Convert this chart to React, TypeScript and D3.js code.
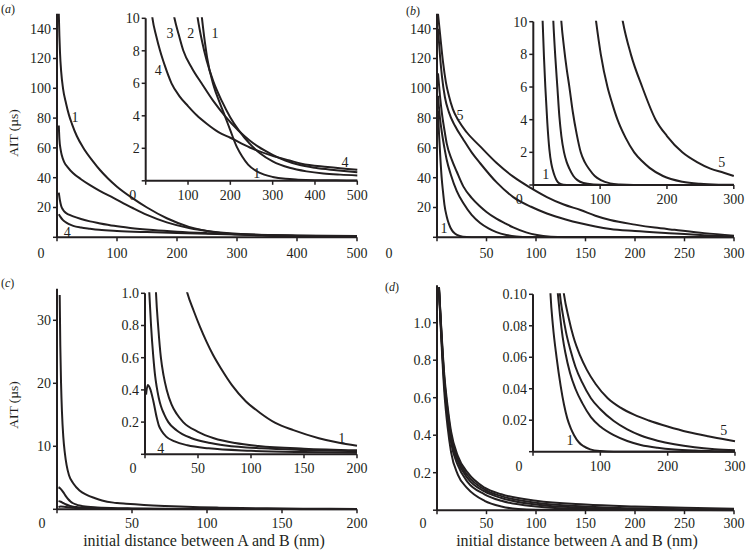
import React from 'react';
import * as d3 from 'd3';

type Pt = [number, number];

// ---------- Panel (a) main ----------
const aMain1: Pt[] = [[3,150],[4,135],[5,124],[7,111],[10,100],[15,90],[20,82],[25,76],[33,68],[44,60],[60,51],[72,45],[85,39.5],[100,34],[127,26],[150,20],[183,12.8],[220,7],[267,3.2],[300,2],[350,1.1],[400,0.6],[500,0.3]];
const aMain2: Pt[] = [[3,75],[4,66],[6,59],[8,55],[12,50.5],[18,47],[27,43],[40,39],[55,35],[72,31],[94,26.5],[115,22],[127,19.5],[150,15],[183,10],[220,6.2],[260,3.8],[300,2.4],[350,1.4],[400,0.85],[500,0.35]];
const aMain3: Pt[] = [[3,30],[5,24.5],[7,21],[10,18.5],[15,16.3],[20,15.2],[27,14],[40,12.3],[55,10.7],[70,9.5],[95,7.7],[122,6.3],[160,4.9],[200,3.8],[250,2.8],[300,2],[400,1.1],[500,0.6]];
const aMain4: Pt[] = [[3,15.5],[6,13.5],[10,11.5],[15,10],[20,8.8],[27,7.7],[40,6.6],[55,5.8],[70,5.1],[100,4.3],[150,3.5],[200,2.9],[250,2.4],[300,1.9],[400,1.2],[500,0.8]];
// ---------- Panel (a) inset ----------
const aIn1: Pt[] = [[125,12],[133,10],[140,8.5],[145,7.6],[160,5.9],[175,4.8],[187,4],[200,3.1],[215,2.1],[228,1.5],[242,1],[260,0.62],[280,0.38],[300,0.24],[330,0.12],[360,0.07],[400,0.04],[450,0.03],[500,0.02]];
const aIn2: Pt[] = [[113,12],[123,10],[133,8.6],[144,7.4],[160,6.1],[180,4.9],[200,3.9],[220,3.1],[245,2.3],[270,1.7],[300,1.2],[340,0.8],[380,0.58],[420,0.45],[460,0.38],[500,0.33]];
const aIn3: Pt[] = [[55,12],[68,10],[78,9],[89,8],[110,6.9],[132,6],[160,4.9],[187,4],[219,3.1],[245,2.5],[266,2.1],[300,1.6],[330,1.25],[360,1],[400,0.8],[450,0.65],[500,0.52]];
const aIn4: Pt[] = [[8,12],[16,10],[25,8.9],[34,8],[45,7.1],[61,6],[80,5.2],[100,4.6],[120,4.05],[145,3.5],[172,3],[200,2.65],[246,2.05],[298,1.55],[340,1.25],[368,1.05],[430,0.85],[500,0.68]];

// ---------- Panel (b) main ----------
const bMain1: Pt[] = [[1,85],[2,70],[3.5,52],[4.7,40],[6,31],[7.5,22],[9.8,14],[12,9],[15,4.8],[18,2.6],[23,0.9],[30,0.2],[40,0],[300,0]];
const bMain2: Pt[] = [[1,95],[3,80],[5,70],[7.5,60],[9.8,52],[14,42],[20,31],[26.7,22.8],[35,15],[43.6,9.6],[52,6],[60,3.5],[70,1.6],[80,0.6],[95,0.1],[110,0],[300,0]];
const bMain3: Pt[] = [[1,110],[3,95],[5,83],[7.5,72],[9.8,63],[15,52],[20,44],[26.7,34],[35,26.5],[43,21],[50,17],[60,12.5],[70,9],[77,6.6],[90,3.3],[101,1.5],[115,0.4],[130,0.05],[145,0],[300,0]];
const bMain4: Pt[] = [[1,140],[3,122],[5,108],[8,94],[12,84],[18,75],[26.7,65.5],[35,57],[43.6,49.7],[60,37],[77,27],[95,20.5],[111,16],[130,12],[145,9.4],[160,7.2],[175,5.5],[200,4.2],[240,2.6],[270,1.4],[300,0.5]];
const bMain5: Pt[] = [[1,150],[3,137],[6,118],[9,104],[12,95],[16,86],[22,78],[30,70.5],[43.6,61],[60,50],[77,40.7],[95,33],[111,27],[128,22],[145,18.3],[160,14.5],[175,11.6],[200,8.5],[220,6.5],[240,5],[270,2.8],[300,1.1]];
// ---------- Panel (b) inset ----------
const bIn1: Pt[] = [[12,12],[14,10],[16,7.8],[18,6],[21,3.8],[24,2.2],[27,1.3],[29,0.95],[32,0.55],[35,0.28],[39,0.1],[45,0.02],[55,0],[300,0]];
const bIn2: Pt[] = [[28,12],[30,10],[33,7.8],[36,6],[39,4.2],[42,3],[46,2],[50,1.4],[54,1],[60,0.55],[66,0.3],[75,0.12],[90,0.03],[110,0],[300,0]];
const bIn3: Pt[] = [[39,12],[42,10],[46,8.4],[50,7.1],[54,6],[59,4.5],[65,3.1],[71,2],[77,1.4],[84,0.95],[92,0.55],[101,0.3],[115,0.1],[130,0.03],[150,0],[300,0]];
const bIn4: Pt[] = [[88,12],[94,10],[101,8],[111,6],[118,5],[126,4],[138,2.9],[151,2],[163,1.45],[174,1.05],[194,0.55],[223,0.2],[250,0.07],[280,0.02],[300,0.01]];
const bIn5: Pt[] = [[126,12],[134,10],[146,8],[163,6],[183,4],[200,3],[223,2],[245,1.4],[265,1],[285,0.75],[300,0.55]];

// ---------- Panel (c) (main and inset share data) ----------
const c1: Pt[] = [[1.8,34],[2.2,26],[2.7,20],[3.3,15.5],[4.2,11.5],[5.2,9],[6.4,7],[8,5.4],[10.9,4.1],[15,3],[19.8,2.3],[25,1.8],[30,1.4],[37.6,1.06],[40,1],[46,0.89],[52,0.79],[58,0.7],[64,0.62],[72,0.53],[82,0.43],[95,0.33],[108,0.26],[123,0.195],[140,0.15],[164,0.1],[182,0.073],[200,0.053]];
const c2: Pt[] = [[1,3.5],[2,3.35],[3,3.1],[4.5,2.6],[6,2.05],[7.5,1.6],[9,1.25],[10.4,1],[12.6,0.78],[15,0.6],[17.5,0.49],[20.5,0.4],[25,0.31],[30,0.25],[36,0.2],[50,0.14],[65,0.1],[85,0.07],[107,0.052],[150,0.035],[200,0.025]];
const c3: Pt[] = [[1,1.3],[2.5,1.2],[4.1,1],[5.7,0.8],[7.9,0.6],[9.5,0.49],[11,0.42],[13,0.35],[15,0.3],[18,0.25],[22,0.2],[30,0.148],[44,0.1],[60,0.072],[76,0.055],[110,0.037],[150,0.027],[200,0.02]];
const c4: Pt[] = [[1,0.37],[2.5,0.43],[4.7,0.41],[7.9,0.33],[11,0.23],[13,0.18],[15.7,0.145],[20,0.11],[28,0.08],[40,0.056],[60,0.037],[100,0.022],[150,0.014],[200,0.01]];

// ---------- Panel (d) main ----------
const dMain1: Pt[] = [[2,1.17],[4,0.95],[7.4,0.63],[10.8,0.44],[14.2,0.31],[21,0.19],[31,0.115],[48,0.05],[65,0.02],[82,0.006],[100,0.002],[300,0]];
const dMain2: Pt[] = [[2,1.18],[4,0.97],[7.4,0.67],[10.8,0.49],[14.2,0.36],[21,0.24],[31,0.15],[48,0.085],[65,0.05],[100,0.02],[150,0.006],[200,0.002],[300,0]];
const dMain3: Pt[] = [[2,1.18],[4,0.98],[7.4,0.69],[10.8,0.51],[14.2,0.38],[21,0.26],[31,0.17],[48,0.1],[65,0.065],[100,0.03],[150,0.012],[200,0.005],[250,0.002],[300,0]];
const dMain4: Pt[] = [[2,1.19],[4,0.99],[7.4,0.7],[10.8,0.53],[14.2,0.4],[21,0.275],[31,0.185],[48,0.11],[65,0.075],[100,0.04],[150,0.02],[200,0.01],[250,0.005],[300,0.003]];
const dMain5: Pt[] = [[2,1.19],[4,1.0],[7.4,0.72],[10.8,0.55],[14.2,0.42],[21,0.29],[31,0.2],[48,0.12],[65,0.085],[100,0.05],[150,0.03],[200,0.02],[250,0.013],[300,0.008]];
// ---------- Panel (d) inset ----------
const dIn1: Pt[] = [[24,0.12],[26,0.1],[29.6,0.08],[35,0.06],[41,0.042],[46,0.03],[51,0.021],[56,0.015],[61,0.0105],[68,0.006],[75,0.0035],[85,0.0015],[100,0.0004],[120,0],[300,0]];
const dIn2: Pt[] = [[35,0.11],[37,0.1],[40,0.087],[44,0.073],[48,0.063],[55,0.05],[63,0.04],[73,0.031],[86,0.022],[100,0.016],[120,0.0105],[140,0.0068],[160,0.0043],[185,0.0025],[210,0.0014],[240,0.0007],[270,0.0003],[300,0.0001]];
const dIn3: Pt[] = [[38,0.11],[40,0.1],[44,0.088],[49,0.076],[56,0.064],[63,0.054],[73,0.044],[86,0.034],[100,0.027],[120,0.0195],[140,0.0142],[160,0.0103],[185,0.007],[210,0.0047],[240,0.0028],[270,0.0016],[300,0.0009]];
const dIn5: Pt[] = [[43,0.11],[46,0.1],[53,0.085],[60,0.073],[70,0.061],[80,0.052],[93,0.043],[111,0.034],[130,0.028],[150,0.0235],[172,0.0198],[200,0.016],[230,0.0125],[260,0.0098],[280,0.0082],[300,0.0066]];

// tick values
const aMainXTicks = [0, 100, 200, 300, 400, 500];
const aMainYTicks = [0, 20, 40, 60, 80, 100, 120, 140];
const aInXTicks = [0, 100, 200, 300, 400, 500];
const aInYTicks = [0, 2, 4, 6, 8, 10];
const bMainXTicks = [0, 50, 100, 150, 200, 250, 300];
const bMainYTicks = [0, 20, 40, 60, 80, 100, 120, 140];
const bInXTicks = [0, 100, 200, 300];
const bInYTicks = [0, 2, 4, 6, 8, 10];
const cMainXTicks = [0, 50, 100, 150, 200];
const cMainYTicks = [0, 10, 20, 30];
const cInXTicks = [0, 50, 100, 150, 200];
const cInYTicks = [0, 0.2, 0.4, 0.6, 0.8, 1.0];
const dMainXTicks = [0, 50, 100, 150, 200, 250, 300];
const dMainYTicks = [0, 0.2, 0.4, 0.6, 0.8, 1.0];
const dInXTicks = [0, 100, 200, 300];
const dInYTicks = [0, 0.02, 0.04, 0.06, 0.08, 0.1];

const INK = '#231f20';
const FONT = 'Liberation Serif, Times New Roman, Times, serif';
const FS = 14;

type Lbl = { t: string; x: number; y: number };
type Cfg = {
  id: string;
  xDomain: [number, number]; xRange: [number, number];
  yDomain: [number, number]; yRange: [number, number];
  xTicks: number[]; yTicks: number[];
  yFmt: (v: number) => string;
  series: Pt[][];
  xLblDy: number; zeroDx: number;
  labels: Lbl[];
};

const txt = { fontFamily: FONT, fontSize: FS, fill: INK } as const;

function Plot({ cfg }: { cfg: Cfg }) {
  const x = d3.scaleLinear().domain(cfg.xDomain).range(cfg.xRange);
  const y = d3.scaleLinear().domain(cfg.yDomain).range(cfg.yRange);
  const line = d3.line<Pt>().x(d => x(d[0])).y(d => y(d[1])).curve(d3.curveMonotoneX);
  const [x0, x1] = cfg.xRange;
  const [yb, yt] = cfg.yRange;
  const tick = 4;
  return (
    <g>
      <defs>
        <clipPath id={cfg.id}>
          <rect x={x0} y={yt - 1} width={x1 - x0 + 2} height={yb - yt + 2} />
        </clipPath>
      </defs>
      <g clipPath={`url(#${cfg.id})`}>
        {cfg.series.map((s, i) => (
          <path key={i} d={line(s) || ''} fill="none" stroke={INK} strokeWidth={2} strokeLinejoin="round" />
        ))}
      </g>
      <line x1={x0} x2={x0} y1={yb} y2={yt} stroke={INK} strokeWidth={2} />
      <line x1={x0} x2={x1} y1={yb} y2={yb} stroke={INK} strokeWidth={2} />
      {cfg.yTicks.map(v => (
        <line key={'yt' + v} x1={x0 - tick} x2={x0} y1={y(v)} y2={y(v)} stroke={INK} strokeWidth={1.5} />
      ))}
      {cfg.xTicks.map(v => (
        <line key={'xt' + v} x1={x(v)} x2={x(v)} y1={yb} y2={yb + tick} stroke={INK} strokeWidth={1.5} />
      ))}
      {cfg.yTicks.filter(v => v !== 0).map(v => (
        <text key={'yl' + v} x={x0 - 6} y={y(v)} dy="0.35em" textAnchor="end" style={txt}>
          {cfg.yFmt(v)}
        </text>
      ))}
      {cfg.xTicks.filter(v => v !== 0).map(v => (
        <text key={'xl' + v} x={x(v)} y={yb + cfg.xLblDy} textAnchor="middle" style={txt}>
          {v}
        </text>
      ))}
      <text x={x0 + cfg.zeroDx} y={yb + cfg.xLblDy} textAnchor="middle" style={txt}>0</text>
      {cfg.labels.map((l, i) => (
        <text key={'l' + i} x={x(l.x)} y={y(l.y)} dy="0.35em" textAnchor="middle" style={txt}>
          {l.t}
        </text>
      ))}
    </g>
  );
}

const f0 = (v: number) => String(v);
const f1 = (v: number) => v.toFixed(1);
const f2 = (v: number) => v.toFixed(2);

const plots: Cfg[] = [
  { id: 'aMain', xDomain: [0, 500], xRange: [57, 357], yDomain: [0, 150], yRange: [237.3, 13.8],
    xTicks: aMainXTicks, yTicks: aMainYTicks, yFmt: f0, series: [aMain1, aMain2, aMain3, aMain4],
    xLblDy: 20.5, zeroDx: -16, labels: [{ t: '1', x: 30, y: 81 }, { t: '4', x: 17, y: 3.8 }] },
  { id: 'aIn', xDomain: [0, 500], xRange: [145.7, 357.3], yDomain: [0, 10], yRange: [180.8, 18.3],
    xTicks: aInXTicks, yTicks: aInYTicks, yFmt: f0, series: [aIn1, aIn2, aIn3, aIn4],
    xLblDy: 19.5, zeroDx: -13,
    labels: [{ t: '3', x: 57.4, y: 9.08 }, { t: '2', x: 106.3, y: 9.08 }, { t: '1', x: 163.8, y: 9.08 },
      { t: '4', x: 29.8, y: 6.82 }, { t: '1', x: 262.3, y: 0.46 }, { t: '4', x: 470.9, y: 1.18 }] },
  { id: 'bMain', xDomain: [0, 300], xRange: [437, 734], yDomain: [0, 150], yRange: [237.3, 13.8],
    xTicks: bMainXTicks, yTicks: bMainYTicks, yFmt: f0, series: [bMain1, bMain2, bMain3, bMain4, bMain5],
    xLblDy: 20.5, zeroDx: -48, labels: [{ t: '1', x: 7.1, y: 6 }, { t: '5', x: 23.2, y: 82 }] },
  { id: 'bIn', xDomain: [0, 300], xRange: [533.3, 733.8], yDomain: [0, 10], yRange: [185, 21.7],
    xTicks: bInXTicks, yTicks: bInYTicks, yFmt: f0, series: [bIn1, bIn2, bIn3, bIn4, bIn5],
    xLblDy: 18.5, zeroDx: -14, labels: [{ t: '1', x: 18.6, y: 0.67 }, { t: '5', x: 281.9, y: 1.43 }] },
  { id: 'cMain', xDomain: [0, 200], xRange: [57, 357], yDomain: [0, 35], yRange: [509.3, 288.8],
    xTicks: cMainXTicks, yTicks: cMainYTicks, yFmt: f0, series: [c1, c2, c3, c4],
    xLblDy: 18.5, zeroDx: -15, labels: [] },
  { id: 'cIn', xDomain: [0, 200], xRange: [145, 357], yDomain: [0, 1], yRange: [454.3, 293.3],
    xTicks: cInXTicks, yTicks: cInYTicks, yFmt: f1, series: [c1, c2, c3, c4],
    xLblDy: 18.5, zeroDx: -12, labels: [{ t: '1', x: 185.6, y: 0.1 }, { t: '4', x: 14.8, y: 0.037 }] },
  { id: 'dMain', xDomain: [0, 300], xRange: [437, 734], yDomain: [0, 1.2], yRange: [510.2, 285.2],
    xTicks: dMainXTicks, yTicks: dMainYTicks, yFmt: f1, series: [dMain1, dMain2, dMain3, dMain4, dMain5],
    xLblDy: 17.8, zeroDx: -14, labels: [] },
  { id: 'dIn', xDomain: [0, 300], xRange: [533, 735], yDomain: [0, 0.1], yRange: [451.7, 294.3],
    xTicks: dInXTicks, yTicks: dInYTicks, yFmt: f2, series: [dIn1, dIn2, dIn3, dIn5],
    xLblDy: 19.5, zeroDx: -14, labels: [{ t: '1', x: 55, y: 0.0074 }, { t: '5', x: 283.3, y: 0.0138 }] },
];

const panelStyle = { fontFamily: FONT, fontSize: 12, fill: INK } as const;
const titleStyle = { fontFamily: FONT, fontSize: 16, fill: INK } as const;
const yTitleStyle = { fontFamily: FONT, fontSize: 13.5, fill: INK } as const;

export default function App() {
  return (
    <svg width={748} height={551} viewBox="0 0 748 551"
      style={{ position: 'absolute', left: 0, top: 0, background: '#fff' }}>
      <rect x={0} y={0} width={748} height={551} fill="#fff" />
      {plots.map(p => <Plot key={p.id} cfg={p} />)}
      <text x={1} y={13} style={panelStyle}>(<tspan fontStyle="italic">a</tspan>)</text>
      <text x={406} y={15} style={panelStyle}>(<tspan fontStyle="italic">b</tspan>)</text>
      <text x={1} y={287} style={panelStyle}>(<tspan fontStyle="italic">c</tspan>)</text>
      <text x={385} y={291} style={panelStyle}>(<tspan fontStyle="italic">d</tspan>)</text>
      <text transform="translate(18,133) rotate(-90)" textAnchor="middle" style={yTitleStyle}>AIT (µs)</text>
      <text transform="translate(18,405) rotate(-90)" textAnchor="middle" style={yTitleStyle}>AIT (µs)</text>
      <text x={204} y={546} textAnchor="middle" style={titleStyle}>initial distance between A and B (nm)</text>
      <text x={577} y={546} textAnchor="middle" style={titleStyle}>initial distance between A and B (nm)</text>
    </svg>
  );
}
